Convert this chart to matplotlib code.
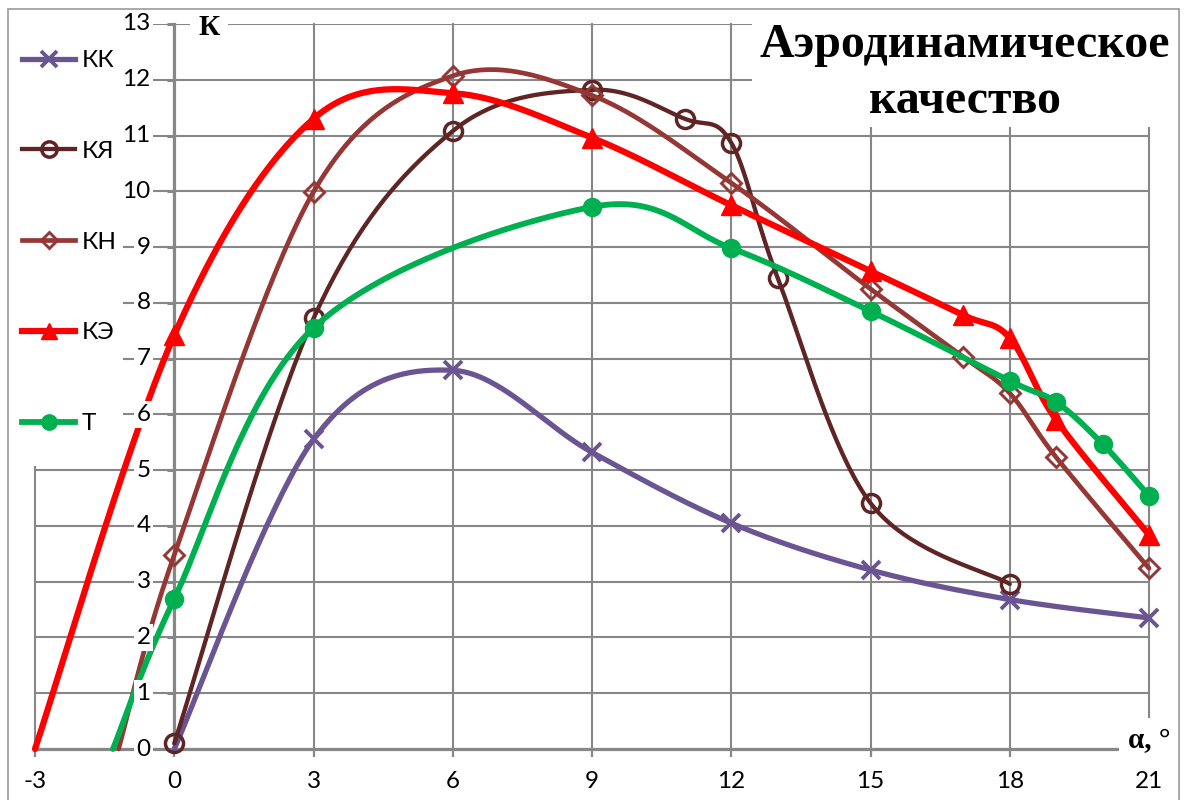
import numpy as np
import matplotlib.pyplot as plt
from matplotlib.lines import Line2D
from matplotlib.patches import Rectangle

plt.rcParams['font.family'] = ['Lato', 'Noto Sans', 'DejaVu Sans']

# угол атаки, град, и аэродинамическое качество
alpha_kk = [0, 3, 6, 9, 12, 15, 18, 21]
k_kk = [0.0, 5.55, 6.79, 5.32, 4.05, 3.21, 2.68, 2.35]

alpha_kya = [0, 3, 6, 9, 11, 12, 13, 15, 18]
k_kya = [0.1, 7.72, 11.08, 11.82, 11.30, 10.87, 8.45, 4.41, 2.96]

alpha_kn = [-1.2, 0, 3, 6, 9, 12, 15, 17, 18, 19, 21]
k_kn = [0.0, 3.48, 9.99, 12.07, 11.72, 10.15, 8.25, 7.03, 6.38, 5.23, 3.24]

alpha_ke = [-3, 0, 3, 6, 9, 12, 15, 17, 18, 19, 21]
k_ke = [0.0, 7.42, 11.30, 11.76, 10.96, 9.75, 8.57, 7.78, 7.37, 5.90, 3.84]

alpha_t = [-1.32, 0, 3, 9, 12, 15, 18, 19, 20, 21]
k_t = [0.0, 2.69, 7.55, 9.72, 8.98, 7.85, 6.60, 6.22, 5.47, 4.54]

labels = ['КК', 'КЯ', 'КН', 'КЭ', 'Т']
# с какой точки ставить маркеры (первая точка - пересечение с осью)
first_marked = [1, 0, 1, 1, 1]

xticks = [-3, 0, 3, 6, 9, 12, 15, 18, 21]
xtick_labels = ['-3', '0', '3', '6', '9', '12', '15', '18', '21']
yticks = list(range(0, 14))

styles = [
    dict(color='#6A5592', lw=3.8, marker='x', ms=13, mew=2.8, mfc='#6A5592'),
    dict(color='#5F2424', lw=3.1, marker='o', ms=13, mew=2.5, mfc='none'),
    dict(color='#953735', lw=3.4, marker='D', ms=10, mew=2.1, mfc='none'),
    dict(color='#FF0000', lw=4.5, marker='^', ms=14, mew=1, mfc='#FF0000'),
    dict(color='#00B050', lw=4.2, marker='o', ms=13, mew=1, mfc='#00B050'),
]

FS = 17.5


def smooth(xs, ys, n=40):
    # сглаживание как в Excel: кривые Безье через соседние точки
    P = np.column_stack([xs, ys]).astype(float)
    out = [P[0]]
    t = np.linspace(0, 1, n)[1:, None]
    for i in range(len(P) - 1):
        p0 = P[i - 1] if i > 0 else P[i]
        p1, p2 = P[i], P[i + 1]
        p3 = P[i + 2] if i + 2 < len(P) else P[i + 1]
        c1 = p1 + (p2 - p0) / 6
        c2 = p2 - (p3 - p1) / 6
        seg = (1 - t)**3 * p1 + 3 * (1 - t)**2 * t * c1 + 3 * (1 - t) * t**2 * c2 + t**3 * p2
        out.extend(seg)
    out = np.array(out)
    return out[:, 0], out[:, 1]


W, H = 1186, 800
fig = plt.figure(figsize=(W / 100, H / 100), dpi=100)
ax = fig.add_axes([35 / W, 1 - 749 / H, (1149 - 35) / W, (749 - 24) / H])

grid_c = '#878787'
ax.set_xlim(-3, 21)
ax.set_ylim(0, 13)
ax.set_xticks(xticks)
ax.set_xticklabels(xtick_labels)
ax.set_yticks(yticks)
ax.set_axisbelow(True)
ax.grid(True, color=grid_c, lw=1.5)
for gl in ax.get_xgridlines() + ax.get_ygridlines():
    gl.set_clip_on(False)

for s in ['top', 'right']:
    ax.spines[s].set_visible(False)
ax.spines['left'].set_position(('data', 0))
for s in ['left', 'bottom']:
    ax.spines[s].set_color(grid_c)
    ax.spines[s].set_linewidth(2.3)
    ax.spines[s].set_zorder(1)

ax.tick_params(axis='x', direction='out', length=6, width=1.6, color=grid_c,
               labelsize=FS, pad=10)
ax.tick_params(axis='y', direction='out', length=5, width=2.2, color=grid_c,
               labelleft=False)

# подписи оси К на белом фоне поверх линий
for v in yticks:
    ax.annotate(str(v), xy=(0, v), xytext=(-17, 0), textcoords='offset points',
                ha='right', va='center', fontsize=FS, zorder=10,
                bbox=dict(fc='white', ec='none', pad=2))

# белые поля под легендой и заголовком
ax.add_patch(Rectangle((-3.3, 5.07), 2.2, 8.4, fc='white', ec='none',
                       zorder=1.2, clip_on=False))
ax.add_patch(Rectangle((12.44, 11.15), 9.1, 2.4, fc='white', ec='none',
                       zorder=1.2, clip_on=False))

series = [(alpha_kk, k_kk), (alpha_kya, k_kya), (alpha_kn, k_kn),
          (alpha_ke, k_ke), (alpha_t, k_t)]
handles = []
for i, ((xs, ys), st, lab, fm) in enumerate(zip(series, styles, labels, first_marked)):
    sx, sy = smooth(xs, ys)
    z = 2 + i * 0.1
    ax.plot(sx, sy, color=st['color'], lw=st['lw'], solid_capstyle='round',
            zorder=z, clip_on=False)
    ax.plot(xs[fm:], ys[fm:], ls='none', marker=st['marker'], ms=st['ms'],
            mew=st['mew'], mec=st['color'], mfc=st['mfc'], zorder=z + 0.05,
            clip_on=False)
    handles.append(Line2D([], [], color=st['color'], lw=st['lw'], marker=st['marker'],
                          ms=st['ms'] * 0.85, mew=st['mew'], mec=st['color'],
                          mfc=st['mfc']))

ax.text(0.74, 12.94, 'К', ha='center', va='center', fontsize=21,
        family='Liberation Serif', weight='bold', zorder=10,
        bbox=dict(fc='white', ec='none', pad=6))
ax.text(21.0, 0.16, 'α, °', ha='center', va='center', fontsize=21,
        family='Liberation Serif', weight='bold', zorder=10,
        bbox=dict(fc='white', ec='none', pad=6))

fig.text(965 / W, 1 - 57 / H, 'Аэродинамическое', ha='center', va='baseline',
         fontsize=34.5, family='Liberation Serif', weight='bold')
fig.text(965 / W, 1 - 113 / H, 'качество', ha='center', va='baseline',
         fontsize=34.5, family='Liberation Serif', weight='bold')

fig.legend(handles, labels, loc='upper left', bbox_to_anchor=(22 / W, 1 - 50 / H),
           frameon=False, fontsize=FS, handlelength=2.2, handletextpad=0.25,
           labelspacing=2.87, borderpad=0, borderaxespad=0)

fig.add_artist(Rectangle((8 / W, -0.02), (1179 - 8) / W, 1 - 9 / H + 0.02,
                         transform=fig.transFigure, fill=False, ec='#9A9A9A', lw=1.2))

fig.savefig('out.png', dpi=100)
